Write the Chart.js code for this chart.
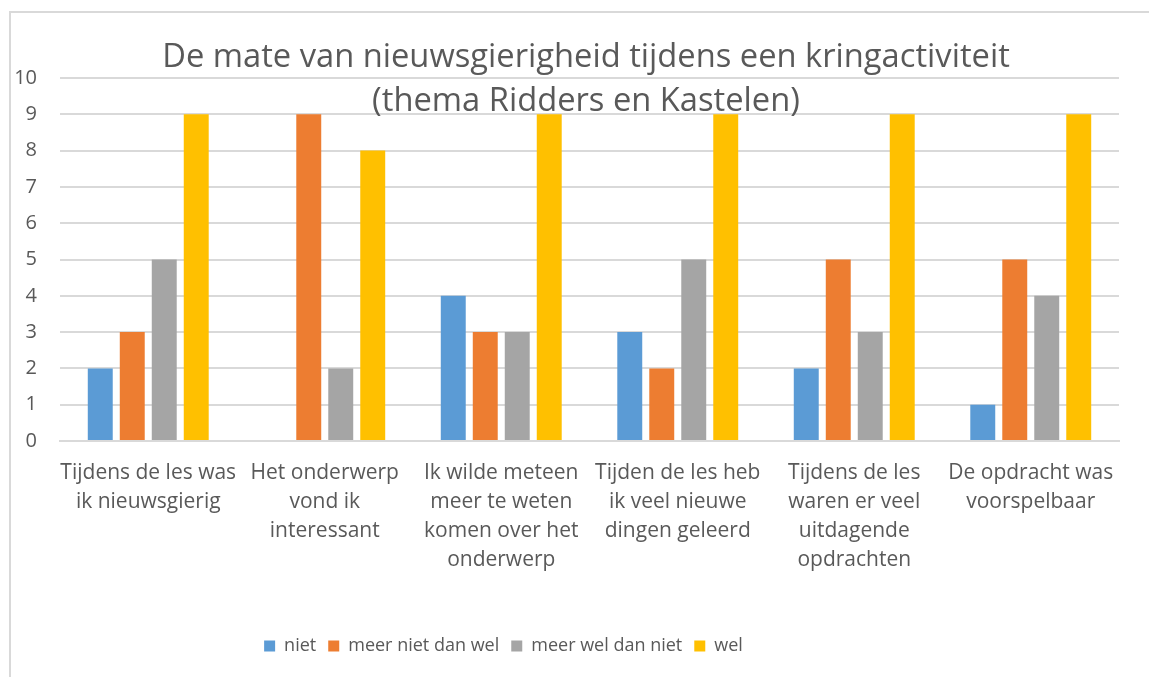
<!DOCTYPE html>
<html>
<head>
<meta charset="utf-8">
<title>De mate van nieuwsgierigheid</title>
<script src="https://cdn.jsdelivr.net/npm/chart.js@4"></script>
<style>
  html, body { margin: 0; padding: 0; background: #fff; overflow: hidden; }
  .frame { position: absolute; left: 9px; top: 11px; width: 1200px; height: 700px;
           border-left: 2px solid #d9d9d9; border-top: 2px solid #d9d9d9; }
  #chart { position: absolute; left: 0; top: 0; }
</style>
</head>
<body>
<div class="frame"></div>
<canvas id="chart" width="1149" height="677"></canvas>
<script>
// ---- data ----
var titleLines = ['De mate van nieuwsgierigheid tijdens een kringactiviteit', '(thema Ridders en Kastelen)'];
var categories = [
  ['Tijdens de les was', 'ik nieuwsgierig'],
  ['Het onderwerp', 'vond ik', 'interessant'],
  ['Ik wilde meteen', 'meer te weten', 'komen over het', 'onderwerp'],
  ['Tijden de les heb', 'ik veel nieuwe', 'dingen geleerd'],
  ['Tijdens de les', 'waren er veel', 'uitdagende', 'opdrachten'],
  ['De opdracht was', 'voorspelbaar']
];
var seriesNames = ['niet', 'meer niet dan wel', 'meer wel dan niet', 'wel'];
var niet = [2, 0, 4, 3, 2, 1];
var meerNietDanWel = [3, 9, 3, 2, 5, 5];
var meerWelDanNiet = [5, 2, 3, 5, 3, 4];
var wel = [9, 8, 9, 9, 9, 9];
var colors = ['#5b9bd5', '#ed7d31', '#a5a5a5', '#ffc000'];

var FONT = '"Open Sans", sans-serif';
var TEXT = '#595959';

// title sits over the plot, as in the original
var overlayTitle = {
  id: 'overlayTitle',
  afterDraw: function (chart) {
    var ctx = chart.ctx;
    ctx.save();
    ctx.font = '32.7px ' + FONT;
    ctx.fillStyle = TEXT;
    ctx.textAlign = 'center';
    ctx.textBaseline = 'alphabetic';
    var cx = 586;
    ctx.fillText(titleLines[0], cx, 67);
    ctx.fillText(titleLines[1], cx, 111);
    ctx.restore();
  }
};

// Excel puts the legend a bit left of centre
var shiftLegend = {
  id: 'shiftLegend',
  beforeDraw: function (chart) {
    var lg = chart.legend;
    if (lg && !lg._shifted) {
      lg.left -= 56;
      lg.right -= 56;
      lg._shifted = true;
    }
  }
};

var values = [niet, meerNietDanWel, meerWelDanNiet, wel];
var datasets = seriesNames.map(function (name, i) {
  return {
    label: name,
    data: values[i],
    backgroundColor: colors[i],
    borderWidth: 0,
    categoryPercentage: 0.725,
    barPercentage: 0.78
  };
});

new Chart(document.getElementById('chart'), {
  type: 'bar',
  data: { labels: categories, datasets: datasets },
  plugins: [overlayTitle, shiftLegend],
  options: {
    responsive: false,
    animation: false,
    layout: { padding: { left: 0, right: 30, top: 78, bottom: 12 } },
    plugins: {
      title: { display: false },
      tooltip: { enabled: false },
      legend: {
        position: 'bottom',
        labels: {
          color: TEXT,
          font: { family: FONT, size: 18 },
          boxWidth: 11,
          boxHeight: 11,
          padding: 12
        }
      }
    },
    scales: {
      x: {
        grid: { display: false, drawTicks: false },
        border: { color: '#d9d9d9', width: 2 },
        ticks: {
          color: TEXT,
          font: { family: FONT, size: 21, lineHeight: 1.38 },
          maxRotation: 0,
          autoSkip: false,
          padding: 18
        },
        afterFit: function (scale) { scale.height = 184; }
      },
      y: {
        min: 0,
        max: 10,
        grid: { color: '#d9d9d9', lineWidth: 2, drawTicks: false },
        border: { display: false },
        ticks: {
          stepSize: 1,
          color: TEXT,
          font: { family: FONT, size: 20 },
          padding: 23
        },
        afterFit: function (scale) { scale.width = 60; }
      }
    }
  }
});
</script>
</body>
</html>
